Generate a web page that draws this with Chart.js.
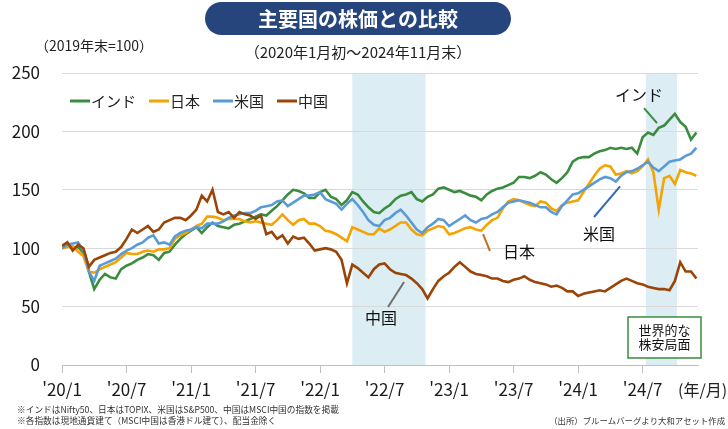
<!DOCTYPE html>
<html lang="ja">
<head>
<meta charset="utf-8">
<script src="https://cdn.jsdelivr.net/npm/chart.js@4/dist/chart.umd.min.js"></script>
<style>
  body { margin: 0; background: #fff; }
</style>
</head>
<body>
<canvas id="myChart" width="728" height="429"></canvas>
<script>
// 主要国の株価との比較 (2019年末=100), 半月ごとの値をグラフから読み取り

const tickLabels = ["'20/1", "'20/7", "'21/1", "'21/7", "'22/1", "'22/7", "'23/1", "'23/7", "'24/1", "'24/7"]
const seriesNames = ["インド", "日本", "米国", "中国"]

const india = [
  100, 102, 100, 101, 96, 80, 65, 73, 78, 75, 74, 82,
  85, 87, 90, 92, 95, 94, 90, 96, 97, 103, 108, 112,
  115, 118, 113, 118, 122, 119, 118, 117, 120, 121, 123, 125,
  127, 129, 128, 132, 136, 141, 146, 150, 149, 147, 143, 143,
  148, 150, 144, 142, 137, 141, 148, 146, 140, 135, 131, 130,
  134, 137, 142, 145, 146, 148, 142, 140, 144, 146, 151, 152,
  150, 148, 149, 147, 145, 144, 141, 146, 149, 151, 152, 154,
  156, 161, 161, 160, 162, 165, 163, 159, 156, 160, 165, 174,
  177, 178, 178, 181, 183, 184, 186, 185, 186, 185, 186, 181,
  195, 199, 197, 203, 205, 210, 215, 208, 204, 193, 199
]
const japan = [
  100, 101, 102, 97, 93, 80, 79, 82, 84, 86, 88, 92,
  96, 95, 95, 97, 98, 97, 99, 99, 100, 108, 111, 113,
  116, 119, 121, 127, 127, 126, 124, 125, 125, 125, 123, 122,
  123, 122, 121, 120, 124, 129, 124, 120, 124, 125, 121, 121,
  119, 115, 114, 112, 109, 106, 118, 116, 114, 112, 112, 117,
  114, 116, 119, 122, 122, 116, 112, 111, 115, 117, 119, 118,
  112, 113, 115, 117, 118, 116, 115, 120, 124, 126, 134, 140,
  142, 141, 139, 137, 136, 140, 139, 134, 132, 137, 139, 140,
  141, 148, 155, 162, 168, 171, 170, 163, 164, 166, 164, 166,
  170, 176, 165, 133, 160, 162, 155, 167, 165, 164, 162
]
const usa = [
  100, 103, 104, 105, 98, 80, 72, 85, 87, 89, 91, 95,
  98, 100, 103, 105, 109, 111, 104, 105, 103, 110, 113, 115,
  116, 118, 117, 121, 121, 121, 123, 126, 128, 129, 130, 130,
  132, 135, 136, 137, 140, 141, 136, 139, 142, 145, 145, 146,
  148, 142, 140, 138, 133, 138, 142, 137, 131, 124, 120, 119,
  124, 126, 130, 133, 128, 122, 116, 113, 118, 121, 125, 124,
  119, 122, 125, 128, 124, 122, 125, 126, 129, 131, 135, 139,
  140, 141, 140, 139, 137, 135, 135, 131, 129, 136, 141, 146,
  147, 150, 153, 156, 159, 161, 160, 157, 162, 165, 166, 168,
  171, 174, 169, 166, 170, 174, 175, 176, 179, 181, 186
]
const china = [
  102, 105, 98, 103, 100, 84, 90, 92, 94, 96, 97, 101,
  108, 116, 113, 116, 119, 114, 116, 122, 124, 126, 126, 124,
  128, 133, 145, 140, 150, 131, 129, 131, 126, 131, 129, 128,
  125, 128, 112, 114, 108, 111, 104, 110, 108, 109, 104, 98,
  99, 100, 99, 97, 90, 70, 86, 83, 79, 75, 82, 86,
  87, 82, 79, 78, 77, 74, 70, 65, 57, 65, 72, 76,
  79, 84, 88, 84, 80, 78, 77, 76, 74, 74, 72, 71,
  73, 74, 76, 73, 71, 70, 69, 67, 68, 66, 63, 63,
  59, 61, 62, 63, 64, 63, 66, 69, 72, 74, 72, 70,
  69, 67, 66, 65, 65, 64, 72, 88, 80, 80, 74
]

// 世界的な株安局面 (2020年1月からの月数)
const shadePeriods = [[27.0, 33.8], [54.3, 57.2]]

const colors = ['#3b8c3f', '#f5a300', '#5b9bd5', '#9a4507']
const font = "'Noto Sans CJK JP', 'Noto Sans', sans-serif"
Chart.defaults.font.family = font

const ctx = document.querySelector('#myChart')

const toPoints = arr => arr.map((v, i) => ({x: i / 2, y: v}))

const data = {
  datasets: [india, japan, usa, china].map((arr, i) => ({
    label: seriesNames[i],
    data: toPoints(arr),
    borderColor: colors[i],
    backgroundColor: colors[i],
    borderWidth: 2.6,
    pointRadius: 0,
    tension: 0,
    order: 4 - i
  }))
}

// ラベルと引き出し線 (月, 値)
const notes = [
  {text: 'インド', at: [53.66, 231], line: [[54.13, 220], [55.34, 207]], color: '#3b8c3f'},
  {text: '日本', at: [42.5, 97], line: [[39.16, 112], [39.8, 97.6]], color: '#c0702a'},
  {text: '米国', at: [49.94, 112], line: [[49.48, 126.7], [51.9, 153]], color: '#2e6db4'},
  {text: '中国', at: [29.67, 40], line: [[30.32, 49.6], [31.81, 71]], color: '#707070'}
]

const shade = {
  id: 'shade',
  beforeDraw(chart) {
    const {ctx, chartArea: a, scales: {x}} = chart
    ctx.save()
    ctx.fillStyle = '#fff'
    ctx.fillRect(0, 0, chart.width, chart.height)
    ctx.fillStyle = '#dcedf4'
    shadePeriods.forEach(([s, e]) => {
      const x0 = x.getPixelForValue(s), x1 = x.getPixelForValue(e)
      ctx.fillRect(x0, a.top, x1 - x0, a.bottom - a.top)
    })
    ctx.restore()
  }
}

const labels = {
  id: 'labels',
  afterDatasetsDraw(chart) {
    const {ctx, scales: {x, y}} = chart
    ctx.save()
    ctx.textAlign = 'center'
    ctx.textBaseline = 'middle'
    notes.forEach(n => {
      ctx.strokeStyle = n.color
      ctx.lineWidth = 2
      ctx.beginPath()
      ctx.moveTo(x.getPixelForValue(n.line[0][0]), y.getPixelForValue(n.line[0][1]))
      ctx.lineTo(x.getPixelForValue(n.line[1][0]), y.getPixelForValue(n.line[1][1]))
      ctx.stroke()
      ctx.fillStyle = '#111'
      ctx.font = '16px ' + font
      ctx.fillText(n.text, x.getPixelForValue(n.at[0]), y.getPixelForValue(n.at[1]))
    })
    // 世界的な株安局面 の枠
    const bx0 = x.getPixelForValue(52.64), bx1 = x.getPixelForValue(59.43)
    const by0 = y.getPixelForValue(41.1), by1 = y.getPixelForValue(6)
    ctx.fillStyle = '#fff'
    ctx.fillRect(bx0, by0, bx1 - bx0, by1 - by0)
    ctx.strokeStyle = '#3b8c3f'
    ctx.lineWidth = 1.5
    ctx.strokeRect(bx0, by0, bx1 - bx0, by1 - by0)
    ctx.fillStyle = '#111'
    ctx.font = '13px ' + font
    const cx = (bx0 + bx1) / 2
    ctx.fillText('世界的な', cx, y.getPixelForValue(30))
    ctx.fillText('株安局面', cx, y.getPixelForValue(17.6))

    // 凡例
    ctx.textAlign = 'left'
    ctx.font = '15px ' + font
    let lx = chart.chartArea.left + 8
    const ly = chart.chartArea.top + 28
    seriesNames.forEach((name, i) => {
      ctx.strokeStyle = colors[i]
      ctx.lineWidth = 3
      ctx.beginPath()
      ctx.moveTo(lx, ly)
      ctx.lineTo(lx + 20, ly)
      ctx.stroke()
      ctx.fillStyle = '#222'
      ctx.fillText(name, lx + 21, ly)
      lx += 21 + ctx.measureText(name).width + 13
    })
    ctx.restore()
  },
  afterDraw(chart) {
    const {ctx} = chart
    ctx.save()
    // タイトル
    ctx.fillStyle = '#26457c'
    ctx.beginPath()
    ctx.roundRect(205, 2, 306, 33, 16.5)
    ctx.fill()
    ctx.fillStyle = '#fff'
    ctx.font = 'bold 20px ' + font
    ctx.textAlign = 'center'
    ctx.textBaseline = 'middle'
    ctx.fillText('主要国の株価との比較', 358, 19)
    ctx.fillStyle = '#222'
    ctx.font = '15px ' + font
    ctx.fillText('（2020年1月初～2024年11月末）', 358, 52)
    ctx.font = '14px ' + font
    ctx.fillText('（2019年末=100）', 94, 46)
    ctx.textAlign = 'left'
    ctx.font = '16px ' + font
    ctx.fillText('(年/月)', 678, 390)
    // 注記
    ctx.fillStyle = '#333'
    ctx.font = '8.7px ' + font
    ctx.fillText('※インドはNifty50、日本はTOPIX、米国はS&P500、中国はMSCI中国の指数を掲載', 17, 410)
    ctx.fillText('※各指数は現地通貨建て（MSCI中国は香港ドル建て）、配当金除く', 17, 421)
    ctx.textAlign = 'right'
    ctx.font = '8.4px ' + font
    ctx.fillText('（出所）ブルームバーグより大和アセット作成', 725, 421)
    ctx.restore()
  }
}

const options = {
  responsive: false,
  animation: false,
  layout: {padding: {top: 73, right: 30, bottom: 24, left: 0}},
  plugins: {
    legend: {display: false},
    tooltip: {enabled: false}
  },
  scales: {
    x: {
      type: 'linear',
      min: 0,
      max: 59.15,
      afterBuildTicks: s => { s.ticks = tickLabels.map((_, i) => ({value: i * 6})) },
      afterFit: s => { s.height = 40 },
      ticks: {
        autoSkip: false,
        maxRotation: 0,
        padding: 6,
        color: '#1a1a1a',
        font: {size: 17},
        callback: v => tickLabels[Math.round(v / 6)]
      },
      grid: {drawOnChartArea: false, drawTicks: true, tickLength: 8, color: '#bfbfbf'},
      border: {display: true, color: '#bfbfbf'}
    },
    y: {
      min: 0,
      max: 250,
      afterFit: s => { s.width = 62 },
      ticks: {stepSize: 50, padding: 22, color: '#1a1a1a', font: {size: 17}},
      grid: {color: '#d9d9d9', drawTicks: false},
      border: {display: false}
    }
  }
}

const config = {
  type: 'line',
  data: data,
  options: options,
  plugins: [shade, labels]
}

const chart = new Chart(ctx, config)
</script>
</body>
</html>
